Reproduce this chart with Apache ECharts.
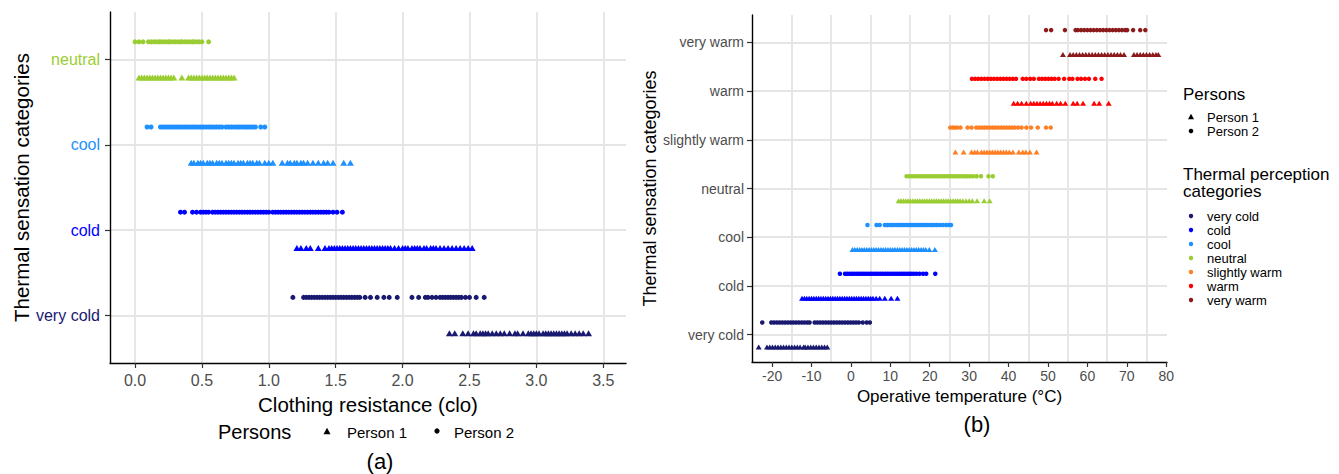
<!DOCTYPE html>
<html><head><meta charset="utf-8">
<script src="https://cdn.jsdelivr.net/npm/echarts@6.0.0/dist/echarts.min.js"></script>
<style>html,body{margin:0;padding:0;background:#fff}#c{width:1339px;height:474px}</style>
</head><body><div id="c"></div>
<script>
// ---------- categories / colours / ticks ----------
const leftCategories = ['very cold','cold','cool','neutral'];
const rightCategories = ['very cold','cold','cool','neutral','slightly warm','warm','very warm'];
const categoryColors = ['#191970','#0000FF','#1E90FF','#9ACD32','#FF7F24','#FF0000','#8B1A1A'];
const leftXTicks = [0,0.5,1,1.5,2,2.5,3,3.5];
const rightXTicks = [-20,-10,0,10,20,30,40,50,60,70,80];
const rightXGridlines = [-15,-5,5,15,25,35,45,55,65,75];

// ---------- (a) clothing resistance (clo) ----------
// Person 1 (triangles)
const cloP1VeryCold = [2.35,2.39,2.45,2.49,2.53,2.55,2.58,2.60,2.62,2.64,2.67,2.70,2.73,2.76,2.80,2.84,2.86,2.90,2.94,2.96,2.98,3.00,3.02,3.05,3.07,3.09,3.11,3.13,3.15,3.17,3.19,3.21,3.23,3.26,3.29,3.32,3.35,3.39];
const cloP1Cold = [1.21,1.24,1.28,1.31,1.37,1.42,1.45,1.47,1.49,1.51,1.53,1.55,1.57,1.59,1.61,1.63,1.65,1.67,1.69,1.71,1.73,1.75,1.77,1.79,1.81,1.83,1.85,1.87,1.89,1.91,1.94,1.97,2.00,2.02,2.04,2.07,2.09,2.11,2.13,2.16,2.18,2.21,2.23,2.25,2.28,2.31,2.34,2.37,2.40,2.43,2.46,2.49,2.52];
const cloP1Cool = [0.42,0.44,0.47,0.49,0.51,0.54,0.56,0.58,0.61,0.63,0.65,0.68,0.70,0.72,0.74,0.77,0.79,0.81,0.84,0.86,0.88,0.91,0.93,0.97,1.00,1.03,1.10,1.14,1.16,1.19,1.21,1.24,1.26,1.29,1.33,1.37,1.41,1.44,1.48,1.56,1.61];
const cloP1Neutral = [0.03,0.05,0.07,0.09,0.11,0.13,0.15,0.17,0.19,0.21,0.23,0.25,0.27,0.29,0.35,0.40,0.42,0.44,0.46,0.48,0.50,0.52,0.54,0.56,0.58,0.60,0.62,0.64,0.66,0.68,0.70,0.72,0.74];
// Person 2 (circles)
const cloP2VeryCold = [1.18,1.26,1.28,1.30,1.32,1.34,1.36,1.38,1.40,1.42,1.44,1.46,1.48,1.50,1.52,1.54,1.56,1.58,1.60,1.62,1.64,1.66,1.68,1.72,1.76,1.81,1.86,1.90,1.96,2.07,2.12,2.17,2.19,2.22,2.25,2.28,2.30,2.32,2.34,2.36,2.38,2.40,2.42,2.44,2.47,2.50,2.55,2.61];
const cloP2Cold = [0.34,0.37,0.43,0.46,0.49,0.51,0.53,0.55,0.58,0.60,0.62,0.64,0.66,0.68,0.70,0.72,0.74,0.76,0.78,0.80,0.82,0.84,0.86,0.88,0.90,0.92,0.94,0.96,0.98,1.00,1.03,1.05,1.07,1.09,1.11,1.13,1.15,1.17,1.19,1.21,1.23,1.25,1.27,1.29,1.31,1.33,1.35,1.37,1.39,1.41,1.43,1.45,1.48,1.51,1.55];
const cloP2Cool = [0.09,0.12,0.19,0.21,0.23,0.25,0.27,0.29,0.31,0.33,0.35,0.37,0.39,0.41,0.43,0.45,0.47,0.49,0.51,0.53,0.55,0.57,0.59,0.61,0.63,0.65,0.68,0.70,0.72,0.74,0.76,0.78,0.80,0.82,0.84,0.86,0.88,0.90,0.94,0.97];
const cloP2Neutral = [0.0,0.03,0.06,0.10,0.12,0.14,0.16,0.18,0.19,0.21,0.23,0.25,0.26,0.28,0.30,0.32,0.34,0.35,0.37,0.39,0.41,0.43,0.44,0.46,0.48,0.50,0.55];

// ---------- (b) operative temperature (°C) ----------
// Person 1 (triangles)
const tempP1VeryCold = [-23.4,-21.3,-20.6,-19.9,-19.2,-18.5,-17.8,-17.1,-16.4,-15.7,-15.0,-14.3,-13.6,-12.9,-12.0,-11.6,-10.9,-10.2,-9.5,-8.8,-8.1,-7.4,-6.7,-6.0];
const tempP1Cold = [-12.4,-11.8,-11.2,-10.6,-10.0,-9.4,-8.8,-8.2,-7.6,-7.0,-6.4,-5.8,-5.2,-4.6,-4.0,-3.4,-2.8,-2.2,-1.6,-1.0,-0.4,0.2,0.8,1.4,2.0,2.6,3.2,3.8,4.4,5.0,5.6,6.4,7.3,8.6,10.2,11.8];
const tempP1Cool = [0.4,1.0,1.6,2.2,2.8,3.4,4.0,4.6,5.2,5.8,6.4,7.0,7.6,8.2,8.8,9.4,10.0,10.6,11.2,11.8,12.4,13.0,13.6,14.2,14.8,15.4,16.0,16.6,17.2,17.8,18.4,19.0,19.9,21.3];
const tempP1Neutral = [12.1,12.7,13.3,13.9,14.5,15.1,15.7,16.3,16.9,17.5,18.1,18.7,19.3,19.9,20.5,21.1,21.7,22.3,22.9,23.5,24.1,24.7,25.3,25.9,26.5,27.1,27.7,28.4,29.2,30.0,30.8,32.0,33.8,35.2];
const tempP1SlightlyWarm = [26.5,28.6,30.6,31.4,32.1,33.1,33.8,34.5,35.2,35.9,36.6,37.3,38.0,38.7,39.4,40.2,41.1,42.6,43.6,44.4,45.4,47.1];
const tempP1Warm = [41.3,42.3,43.3,44.5,45.6,46.4,47.2,48.0,48.8,49.6,50.4,51.1,52.2,53.2,54.4,56.4,57.4,58.9,61.7,63.0,65.4];
const tempP1VeryWarm = [53.8,55.6,56.4,57.2,58.0,58.8,59.6,60.4,61.2,62.0,62.8,63.6,64.4,65.2,66.0,66.8,67.6,68.4,69.3,71.8,72.6,73.4,74.2,75.0,75.8,76.6,77.4,78.0];
// Person 2 (circles)
const tempP2VeryCold = [-22.5,-20.2,-19.5,-18.8,-18.1,-17.4,-16.7,-16.0,-15.3,-14.6,-13.9,-13.2,-12.5,-11.8,-11.1,-10.5,-9.2,-8.5,-7.8,-7.1,-6.4,-5.7,-5.0,-4.3,-3.6,-2.9,-2.2,-1.5,-0.8,-0.1,0.6,1.3,2.0,3.0,4.0,4.8];
const tempP2Cold = [-2.8,-1.5,-0.9,-0.3,0.3,0.9,1.5,2.1,2.7,3.3,3.9,4.5,5.1,5.7,6.3,6.9,7.5,8.1,8.7,9.3,9.9,10.5,11.1,11.7,12.3,12.9,13.5,14.1,14.7,15.3,15.9,16.6,17.4,18.3,19.1,21.4];
const tempP2Cool = [4.2,6.5,7.3,8.6,9.2,9.8,10.4,11.0,11.6,12.2,12.8,13.4,14.0,14.6,15.2,15.8,16.4,17.0,17.6,18.2,18.8,19.4,20.0,20.6,21.2,21.8,22.5,23.3,24.1,24.8,25.4];
const tempP2Neutral = [14.1,14.8,15.5,16.2,16.9,17.6,18.3,19.0,19.7,20.4,21.1,21.8,22.5,23.2,23.9,24.6,25.3,26.0,26.7,27.4,28.1,28.8,29.5,30.2,31.0,31.9,33.0,34.9,36.0];
const tempP2SlightlyWarm = [25.2,25.8,26.4,27.0,27.8,29.6,30.6,31.8,32.5,33.2,33.9,34.6,35.3,36.0,36.7,37.4,38.1,38.8,39.5,40.2,40.9,41.6,42.4,43.3,44.5,45.7,47.4,49.5,50.7];
const tempP2Warm = [30.7,31.5,32.3,33.1,33.9,34.7,35.5,36.3,37.1,37.9,38.7,39.5,40.3,41.1,41.9,43.6,44.5,45.5,46.4,47.7,48.5,49.3,50.1,50.9,51.7,52.7,54.1,55.4,56.2,57.5,58.4,59.4,60.4,62.0,63.6];
const tempP2VeryWarm = [49.5,50.8,54.3,57.0,57.6,58.4,59.2,60.0,60.8,61.6,62.4,63.2,64.0,64.8,65.6,66.4,67.2,68.0,68.8,69.6,70.1,71.6,73.4,74.7];

const cloP1 = [cloP1VeryCold, cloP1Cold, cloP1Cool, cloP1Neutral];
const cloP2 = [cloP2VeryCold, cloP2Cold, cloP2Cool, cloP2Neutral];
const tempP1 = [tempP1VeryCold, tempP1Cold, tempP1Cool, tempP1Neutral, tempP1SlightlyWarm, tempP1Warm, tempP1VeryWarm];
const tempP2 = [tempP2VeryCold, tempP2Cold, tempP2Cool, tempP2Neutral, tempP2SlightlyWarm, tempP2Warm, tempP2VeryWarm];

// ---------- styling ----------
const FONT = '"Liberation Sans", Arial, Helvetica, sans-serif';
const GRID_COLOR = '#E5E5E5';
const LABEL_GREY = '#4D4D4D';
const LEFT_OFFSET = 0.21, RIGHT_OFFSET = 0.25;

const series = [];
function addSeries(arrs, cats, offset, symbol, size, xi, yi, prefix) {
  arrs.forEach((arr, k) => {
    series.push({
      type: 'scatter', name: prefix + ' ' + cats[k],
      xAxisIndex: xi, yAxisIndex: yi,
      symbol: symbol, symbolSize: size,
      itemStyle: { color: categoryColors[k], opacity: 1 },
      emphasis: { disabled: true },
      data: arr.map(v => [v, k + offset])
    });
  });
}
addSeries(cloP1, leftCategories, -LEFT_OFFSET, 'triangle', [7, 6], 0, 0, 'Person 1');
addSeries(cloP2, leftCategories, LEFT_OFFSET, 'circle', 5, 0, 0, 'Person 2');
addSeries(tempP1, rightCategories, -RIGHT_OFFSET, 'triangle', [6, 5], 1, 1, 'Person 1');
addSeries(tempP2, rightCategories, RIGHT_OFFSET, 'circle', 4.5, 1, 1, 'Person 2');

const richLeft = {};
leftCategories.forEach((c, i) => { richLeft['c' + i] = { color: categoryColors[i], fontSize: 16, fontFamily: FONT }; });

function axisLineStyle() { return { show: true, onZero: false, lineStyle: { color: '#000', width: 1.4 } }; }
function tickStyle(vals, len) { return { show: true, length: len, lineStyle: { color: '#333', width: 1.2 }, customValues: vals }; }

const option = {
  animation: false,
  backgroundColor: '#fff',
  textStyle: { fontFamily: FONT },
  grid: [
    { left: 110, top: 12, width: 516, height: 351 },
    { left: 752, top: 15, width: 415, height: 347 }
  ],
  xAxis: [
    { type: 'value', gridIndex: 0, min: -0.187, max: 3.67,
      axisLine: axisLineStyle(), axisTick: tickStyle(leftXTicks, 5),
      axisLabel: { customValues: leftXTicks, color: LABEL_GREY, fontSize: 16, margin: 9, fontFamily: FONT,
        formatter: v => v.toFixed(1) },
      splitLine: { show: true, lineStyle: { color: GRID_COLOR, width: 1.8 } },
      name: 'Clothing resistance (clo)', nameLocation: 'middle', nameGap: 31,
      nameTextStyle: { color: '#000', fontSize: 20.5, fontFamily: FONT } },
    { type: 'value', gridIndex: 1, min: -25.1, max: 80.2,
      axisLine: axisLineStyle(), axisTick: tickStyle(rightXTicks, 5),
      axisLabel: { customValues: rightXTicks, color: LABEL_GREY, fontSize: 14, margin: 7, fontFamily: FONT },
      splitLine: { show: false },
      name: 'Operative temperature (°C)', nameLocation: 'middle', nameGap: 26,
      nameTextStyle: { color: '#000', fontSize: 17, fontFamily: FONT } },
    { type: 'value', gridIndex: 1, min: -25.1, max: 80.2, z: 0,
      axisLine: { show: false, onZero: false }, axisLabel: { show: false },
      axisTick: { show: false, customValues: rightXGridlines },
      splitLine: { show: true, lineStyle: { color: GRID_COLOR, width: 1.8 } } }
  ],
  yAxis: [
    { type: 'value', gridIndex: 0, min: -0.56, max: 3.56,
      axisLine: axisLineStyle(), axisTick: tickStyle([0,1,2,3], 5),
      axisLabel: { customValues: [0,1,2,3], margin: 10, fontSize: 16, fontFamily: FONT,
        formatter: v => '{c' + v + '|' + leftCategories[v] + '}', rich: richLeft },
      splitLine: { show: true, lineStyle: { color: GRID_COLOR, width: 1.8 } },
      name: 'Thermal sensation categories', nameLocation: 'middle', nameGap: 78, nameRotate: 90,
      nameTextStyle: { color: '#000', fontSize: 20.5, fontFamily: FONT } },
    { type: 'value', gridIndex: 1, min: -0.56, max: 6.56,
      axisLine: axisLineStyle(), axisTick: tickStyle([0,1,2,3,4,5,6], 5),
      axisLabel: { customValues: [0,1,2,3,4,5,6], margin: 8, fontSize: 14, color: LABEL_GREY, fontFamily: FONT,
        formatter: v => rightCategories[v] },
      splitLine: { show: true, lineStyle: { color: GRID_COLOR, width: 1.8 } },
      name: 'Thermal sensation categories', nameLocation: 'middle', nameGap: 92, nameRotate: 90,
      nameTextStyle: { color: '#000', fontSize: 18, fontFamily: FONT } }
  ],
  series: series,
  graphic: []
};

// ---------- legends & panel captions (graphic) ----------
const g = option.graphic;
function txt(x, y, s, size, align) {
  g.push({ type: 'text', x: x, y: y, style: { text: s, font: size + 'px ' + FONT, fill: '#000',
    textAlign: align || 'left', textVerticalAlign: 'middle' } });
}
function tri(cx, cy, w) {
  const h = w * 0.9;
  g.push({ type: 'polygon', shape: { points: [[cx, cy - h / 2], [cx + w / 2, cy + h / 2], [cx - w / 2, cy + h / 2]] }, style: { fill: '#000' } });
}
function dot(cx, cy, r, color) {
  g.push({ type: 'circle', shape: { cx: cx, cy: cy, r: r }, style: { fill: color || '#000' } });
}
// bottom legend of (a)
txt(218, 432, 'Persons', 20);
tri(327, 431, 7); txt(347, 432, 'Person 1', 15);
dot(437, 431, 2.6); txt(454, 432, 'Person 2', 15);
txt(380, 461, '(a)', 22, 'center');
txt(977, 424, '(b)', 22, 'center');
// right legend of (b)
txt(1183, 94, 'Persons', 17);
tri(1191, 116.5, 6); txt(1207, 117, 'Person 1', 13);
dot(1191, 131, 2.3); txt(1207, 131, 'Person 2', 13);
txt(1183, 174, 'Thermal perception', 17);
txt(1183, 191, 'categories', 17);
rightCategories.forEach((c, i) => {
  dot(1191, 216 + 14 * i, 2.2, categoryColors[i]);
  txt(1207, 216 + 14 * i, c, 13);
});

const chart = echarts.init(document.getElementById('c'), null, { renderer: 'svg' });
chart.setOption(option);
</script>
</body></html>
